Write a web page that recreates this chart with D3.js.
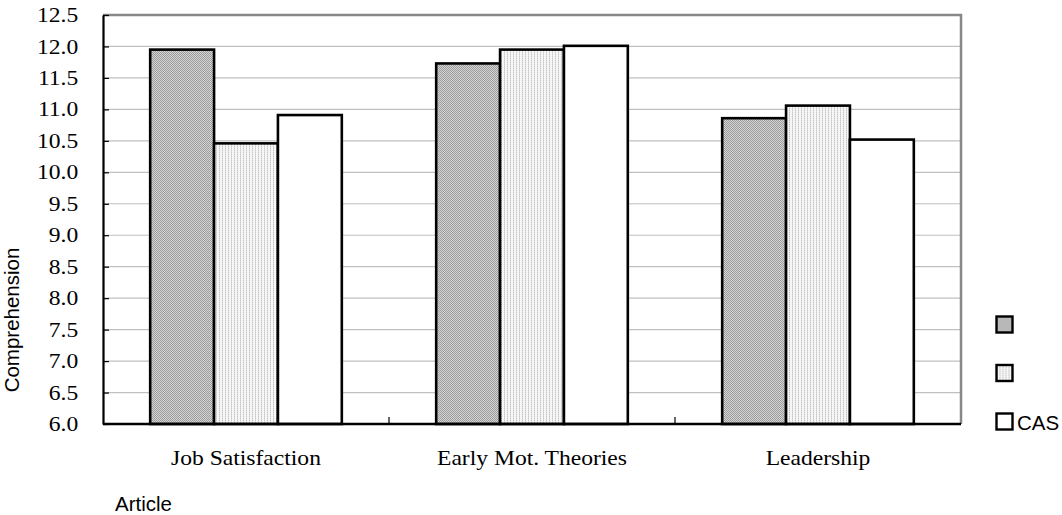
<!DOCTYPE html>
<html>
<head>
<meta charset="utf-8">
<script src="https://cdn.jsdelivr.net/npm/d3@7"></script>
<style>
  html, body { margin: 0; padding: 0; background: #fff; }
  svg { display: block; }
</style>
</head>
<body>
<svg id="chart" width="1062" height="515"></svg>
<script>
// Comprehension scores per article, three series
const categories = ["Job Satisfaction", "Early Mot. Theories", "Leadership"];
const seriesNames = ["", "", "CAS"];
const seriesA = [11.95, 11.73, 10.86];
const seriesB = [10.46, 11.95, 11.06];
const seriesC = [10.91, 12.01, 10.52];
const yTicks = [6.0, 6.5, 7.0, 7.5, 8.0, 8.5, 9.0, 9.5, 10.0, 10.5, 11.0, 11.5, 12.0, 12.5];

const seriesValues = [seriesA, seriesB, seriesC];

const SERIF = "'Liberation Serif', 'Times New Roman', serif";
const SANS = "'Liberation Sans', Arial, sans-serif";

const svg = d3.select("#chart");
const plotLeft = 103, plotRight = 961, plotTop = 15, plotBottom = 424;

// fill patterns: fine checker (dark), vertical dotted (light), plain white
const defs = svg.append("defs");
const p1 = defs.append("pattern").attr("id", "pat0").attr("patternUnits", "userSpaceOnUse")
  .attr("width", 2).attr("height", 2);
p1.append("rect").attr("width", 2).attr("height", 2).attr("fill", "#d4d4d4");
p1.append("rect").attr("width", 1).attr("height", 1).attr("fill", "#9c9c9c");
p1.append("rect").attr("x", 1).attr("y", 1).attr("width", 1).attr("height", 1).attr("fill", "#9c9c9c");

const p2 = defs.append("pattern").attr("id", "pat1").attr("patternUnits", "userSpaceOnUse")
  .attr("width", 3).attr("height", 2);
p2.append("rect").attr("width", 3).attr("height", 2).attr("fill", "#f6f6f6");
p2.append("rect").attr("width", 1).attr("height", 1).attr("fill", "#c4c4c4");
p2.append("rect").attr("y", 1).attr("width", 1).attr("height", 1).attr("fill", "#dedede");

const fills = ["url(#pat0)", "url(#pat1)", "#ffffff"];

const x = d3.scaleBand().domain(categories).range([plotLeft, plotRight]).padding(0);
const bw = x.bandwidth();
const groupW = bw * 0.67;
const xs = d3.scaleBand().domain(d3.range(seriesValues.length))
  .range([(bw - groupW) / 2, (bw + groupW) / 2]).padding(0);
const y = d3.scaleLinear().domain([6.0, 12.5]).range([plotBottom, plotTop]);

// gridlines
svg.append("g").selectAll("line").data(yTicks.slice(1, -1)).join("line")
  .attr("x1", plotLeft).attr("x2", plotRight)
  .attr("y1", d => y(d)).attr("y2", d => y(d))
  .attr("stroke", "#c0c0c0").attr("stroke-width", 1.2);

// top and right frame
svg.append("path")
  .attr("d", `M${plotLeft},${plotTop}H${plotRight}V${plotBottom}`)
  .attr("fill", "none").attr("stroke", "#888").attr("stroke-width", 2.5);

// bars
const bars = [];
categories.forEach((c, i) => seriesValues.forEach((s, j) => bars.push({ c, j, v: s[i] })));
svg.append("g").selectAll("rect").data(bars).join("rect")
  .attr("x", d => x(d.c) + xs(d.j))
  .attr("y", d => y(d.v))
  .attr("width", xs.bandwidth())
  .attr("height", d => y(6.0) - y(d.v))
  .attr("fill", d => fills[d.j])
  .attr("stroke", "#000").attr("stroke-width", 2.6);

// y axis
const yAxis = svg.append("g").attr("transform", `translate(${plotLeft},0)`)
  .call(d3.axisLeft(y).tickValues(yTicks).tickFormat(d3.format(".1f"))
    .tickSizeInner(-6).tickSizeOuter(0).tickPadding(21.5));
yAxis.select(".domain").attr("stroke", "#000").attr("stroke-width", 2.2);
yAxis.selectAll(".tick line").attr("stroke", "#000").attr("stroke-width", 1.2);
yAxis.selectAll(".tick text")
  .style("font-family", SERIF)
  .style("font-size", "20.5px").attr("fill", "#000")
  .attr("transform", "scale(1.15,1)");

// x axis
const xAxis = svg.append("g").attr("transform", `translate(0,${plotBottom})`);
xAxis.append("line").attr("x1", plotLeft).attr("x2", plotRight).attr("stroke", "#000").attr("stroke-width", 2.4);
xAxis.selectAll("line.tk").data(categories.slice(1)).join("line").attr("class", "tk")
  .attr("x1", d => x(d)).attr("x2", d => x(d)).attr("y1", 0).attr("y2", -7)
  .attr("stroke", "#000").attr("stroke-width", 1.2);
xAxis.selectAll("g.lbl").data(categories).join("g").attr("class", "lbl")
  .attr("transform", d => `translate(${x(d) + bw / 2},41)`)
  .append("text").attr("text-anchor", "middle")
  .style("font-family", SERIF).style("font-size", "20.5px")
  .attr("transform", "scale(1.15,1)")
  .text(d => d);

// axis titles
svg.append("text").attr("transform", "translate(19,320) rotate(-90)")
  .attr("text-anchor", "middle").style("font-family", SANS).style("font-size", "20.5px")
  .text("Comprehension");
svg.append("text").attr("x", 115).attr("y", 511)
  .style("font-family", SANS).style("font-size", "20.5px")
  .text("Article");

// legend
const legend = svg.append("g").selectAll("g").data(seriesNames).join("g")
  .attr("transform", (d, i) => `translate(996.5,${316.5 + i * 48.5})`);
legend.append("rect").attr("width", 16).attr("height", 16)
  .attr("fill", (d, i) => fills[i]).attr("stroke", "#000").attr("stroke-width", 2.4);
legend.append("text").attr("x", 20.5).attr("y", 16)
  .style("font-family", SANS).style("font-size", "20.5px")
  .text(d => d);
</script>
</body>
</html>
